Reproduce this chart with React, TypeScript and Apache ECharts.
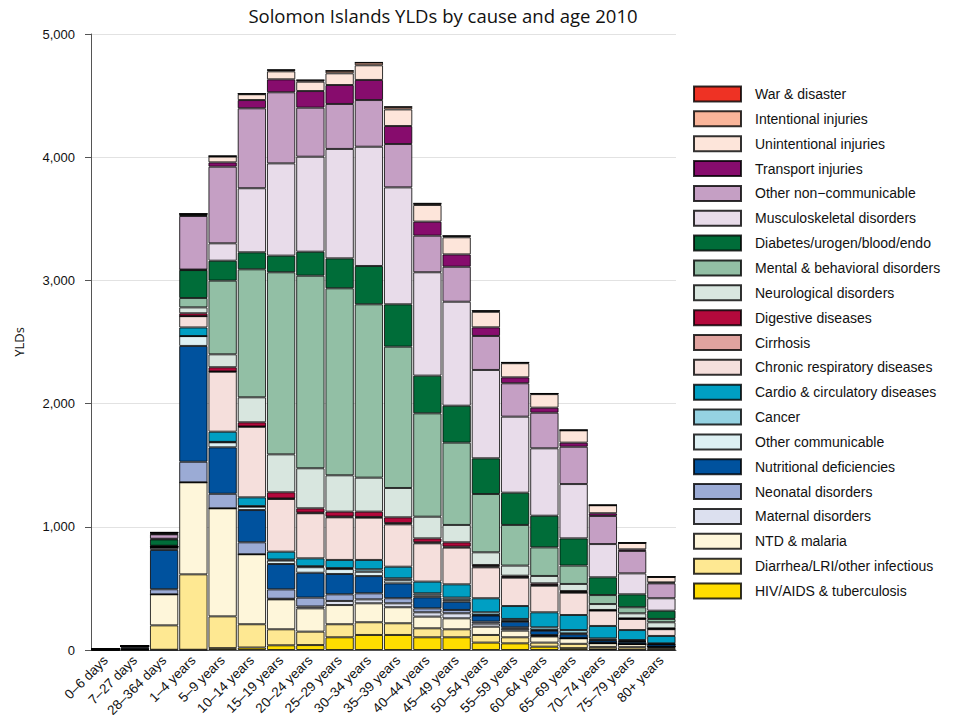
import React, { useEffect, useRef } from "react";
import * as echarts from "echarts";

const categories = [
  "0–6 days", "7–27 days", "28–364 days", "1–4 years", "5–9 years", "10–14 years",
  "15–19 years", "20–24 years", "25–29 years", "30–34 years", "35–39 years", "40–44 years",
  "45–49 years", "50–54 years", "55–59 years", "60–64 years", "65–69 years", "70–74 years",
  "75–79 years", "80+ years",
];

const hivTb = [0, 0, 2, 2, 15, 20, 38, 40, 103, 122, 122, 103, 103, 60, 54, 27, 15, 5, 3, 2];
const diarrheaLri = [2, 6, 198, 612, 258, 189, 130, 109, 106, 103, 95, 73, 65, 62, 49, 33, 35, 20, 20, 15];
const ntdMalaria = [0, 2, 252, 747, 877, 568, 243, 189, 156, 154, 130, 95, 89, 67, 54, 50, 45, 30, 25, 10];
const maternal = [0, 0, 0, 0, 0, 0, 5, 15, 33, 32, 32, 35, 41, 25, 15, 5, 0, 0, 0, 0];
const neonatal = [8, 15, 41, 167, 118, 97, 76, 72, 54, 49, 41, 32, 27, 16, 12, 7, 3, 2, 0, 0];
const nutritional = [0, 5, 319, 940, 377, 262, 206, 202, 165, 140, 121, 90, 67, 50, 46, 35, 30, 20, 18, 20];
const otherComm = [1, 2, 18, 80, 41, 27, 28, 45, 40, 35, 25, 15, 15, 4, 5, 5, 7, 5, 5, 0];
const cancer = [0, 0, 1, 0, 3, 5, 8, 8, 8, 20, 16, 17, 18, 22, 17, 22, 27, 12, 10, 7];
const cardio = [0, 1, 4, 70, 83, 71, 64, 64, 66, 76, 94, 95, 108, 114, 105, 122, 122, 101, 81, 60];
const chronicResp = [0, 1, 4, 92, 487, 573, 428, 366, 346, 343, 344, 311, 298, 251, 230, 216, 181, 125, 90, 55];
const cirrhosis = [0, 0, 0, 0, 2, 2, 4, 5, 6, 6, 10, 8, 8, 8, 6, 6, 5, 3, 2, 2];
const digestive = [0, 0, 1, 23, 34, 34, 50, 35, 40, 43, 47, 32, 35, 11, 10, 13, 9, 2, 3, 5];
const neurological = [0, 0, 3, 48, 105, 203, 308, 325, 295, 276, 238, 176, 141, 103, 82, 60, 57, 48, 41, 49];
const mental = [0, 0, 3, 76, 598, 1039, 1478, 1563, 1518, 1407, 1147, 839, 668, 473, 330, 232, 149, 73, 49, 27];
const diabetes = [0, 0, 52, 227, 162, 138, 135, 195, 243, 311, 344, 306, 300, 290, 262, 257, 221, 144, 105, 67];
const musculoskeletal = [0, 0, 5, 4, 141, 520, 749, 771, 888, 968, 949, 839, 844, 717, 617, 547, 441, 270, 170, 101];
const otherNcd = [1, 1, 36, 435, 622, 649, 577, 398, 365, 379, 352, 297, 284, 276, 271, 289, 303, 228, 182, 121];
const transport = [0, 0, 3, 5, 35, 67, 105, 135, 154, 163, 146, 114, 100, 70, 48, 41, 33, 22, 13, 8];
const unintentional = [0, 0, 10, 10, 47, 47, 65, 76, 95, 119, 135, 135, 139, 126, 115, 110, 100, 65, 52, 44];
const intentional = [0, 0, 2, 2, 4, 4, 11, 12, 20, 22, 20, 12, 11, 8, 5, 4, 2, 1, 1, 1];
const warDisaster = [0, 0, 1, 1, 1, 1, 3, 2, 2, 2, 2, 2, 2, 2, 2, 2, 1, 1, 1, 1];

const seriesNames = [
  "HIV/AIDS & tuberculosis",
  "Diarrhea/LRI/other infectious",
  "NTD & malaria",
  "Maternal disorders",
  "Neonatal disorders",
  "Nutritional deficiencies",
  "Other communicable",
  "Cancer",
  "Cardio & circulatory diseases",
  "Chronic respiratory diseases",
  "Cirrhosis",
  "Digestive diseases",
  "Neurological disorders",
  "Mental & behavioral disorders",
  "Diabetes/urogen/blood/endo",
  "Musculoskeletal disorders",
  "Other non−communicable",
  "Transport injuries",
  "Unintentional injuries",
  "Intentional injuries",
  "War & disaster",
];

const seriesData = [
  hivTb, diarrheaLri, ntdMalaria, maternal, neonatal, nutritional, otherComm, cancer,
  cardio, chronicResp, cirrhosis, digestive, neurological, mental, diabetes,
  musculoskeletal, otherNcd, transport, unintentional, intentional, warDisaster,
];

const seriesColors = [
  "#FFDD00", "#FEE892", "#FEF6DA", "#DCE0EF", "#9BABD5", "#00529E", "#DDF0F3", "#95D2E2",
  "#009FC3", "#F5DFDC", "#E0A39F", "#B4093C", "#D8E6DF", "#92BFA5", "#006D39",
  "#E8DCEA", "#C59FC4", "#870C6D", "#FDE5DA", "#F9B59A", "#EE3224",
];

const titleText = "Solomon Islands YLDs by cause and age 2010";
const yTicks = [0, 1000, 2000, 3000, 4000, 5000];

export default function App() {
  const ref = useRef<HTMLDivElement>(null);
  useEffect(() => {
    const chart = echarts.init(ref.current!, null, { renderer: "svg" });
    const option = {
      animation: false,
      backgroundColor: "#ffffff",
      graphic: [
        {
          type: "text",
          x: 443,
          y: 15,
          style: {
            text: titleText,
            fontFamily: "Open Sans",
            fontSize: 18.5,
            fill: "#111",
            textAlign: "center",
            textVerticalAlign: "middle",
          },
        },
      ],
      grid: {
        left: 91,
        right: 289,
        top: 34,
        bottom: 65,
        containLabel: false,
        outerBoundsMode: "none",
      },
      legend: {
        orient: "vertical",
        left: 688,
        top: 80.5,
        icon: "rect",
        itemWidth: 47,
        itemHeight: 15,
        itemGap: 7.85,
        selectedMode: false,
        data: seriesNames.slice().reverse(),
        textStyle: {
          fontFamily: "Liberation Sans",
          fontSize: 14,
          color: "#111",
          padding: [0, 0, 0, 9],
        },
      },
      xAxis: {
        type: "category",
        data: categories,
        axisLine: { show: true, lineStyle: { color: "#555", width: 1 } },
        axisTick: { show: false },
        axisLabel: {
          rotate: 45,
          interval: 0,
          fontFamily: "Liberation Sans",
          fontSize: 13.5,
          color: "#111",
          margin: 8,
        },
      },
      yAxis: {
        type: "value",
        min: yTicks[0],
        max: yTicks[yTicks.length - 1],
        interval: 1000,
        name: "YLDs",
        nameLocation: "middle",
        nameGap: 66,
        nameRotate: 90,
        nameTextStyle: { fontFamily: "Open Sans", fontSize: 13, color: "#111" },
        axisLine: { show: true, lineStyle: { color: "#555", width: 1 } },
        axisTick: { show: true, length: 6, lineStyle: { color: "#555" } },
        axisLabel: {
          fontFamily: "Liberation Sans",
          fontSize: 13,
          color: "#111",
          margin: 16,
          formatter: (v: number) => v.toLocaleString("en-US"),
        },
        splitLine: { show: true, lineStyle: { color: "#e2e2e2", width: 1 } },
      },
      series: seriesNames.map((name, i) => ({
        name,
        type: "bar",
        stack: "total",
        barCategoryGap: "3%",
        data: seriesData[i],
        itemStyle: {
          color: seriesColors[i],
          borderColor: "rgba(0,0,0,0.8)",
          borderWidth: 1,
        },
        emphasis: { disabled: true },
      })),
    };
    chart.setOption(option as any);
    return () => chart.dispose();
  }, []);
  return (
    <div
      ref={ref}
      style={{ position: "fixed", left: 0, top: 0, width: 965, height: 715 }}
    />
  );
}
